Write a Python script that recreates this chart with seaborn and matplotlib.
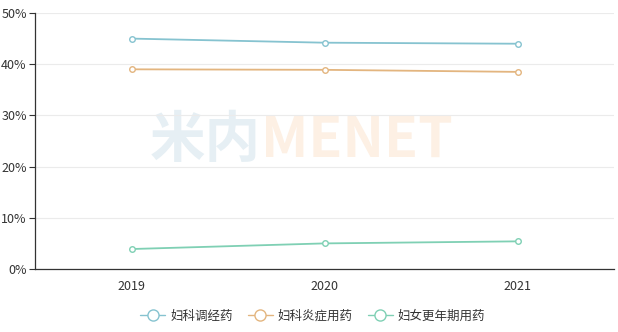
import matplotlib
matplotlib.use("Agg")
import matplotlib.pyplot as plt
import seaborn as sns
import pandas as pd
from matplotlib.ticker import FuncFormatter, FixedLocator

# ==========================================
# DATA
# ==========================================
years = ['2019', '2020', '2021']
series_names = ['妇科调经药', '妇科炎症用药', '妇女更年期用药']
tiaojing = [45.0, 44.2, 44.0]
yanzheng = [39.0, 38.9, 38.5]
gengnian = [3.9, 5.0, 5.4]
colours = ['#86c3d0', '#e3b57f', '#7fd0b4']

df = pd.DataFrame({
    'year': years * 3,
    'value': tiaojing + yanzheng + gengnian,
    'series': [series_names[0]] * 3 + [series_names[1]] * 3 + [series_names[2]] * 3,
})
df['x'] = df['year'].map({y: i for i, y in enumerate(years)})

sns.set_theme(style='white')
plt.rcParams['font.family'] = ['Noto Sans CJK SC', 'DejaVu Sans']

fig = plt.figure(figsize=(6.18, 3.32), dpi=100)
ax = fig.add_axes([35 / 618, 63 / 332, 579 / 618, 256 / 332])

# faint watermark
ax.text(0.39, 0.5, '米内', transform=ax.transAxes, fontsize=40, fontweight='bold',
        color='#e6eff4', ha='right', va='center', zorder=0)
ax.text(0.39, 0.5, 'MENET', transform=ax.transAxes, fontsize=40, fontweight='bold',
        color='#fdf0e4', ha='left', va='center', zorder=0)

sns.lineplot(data=df, x='x', y='value', hue='series', hue_order=series_names,
             palette=colours, marker='o', markersize=4, markerfacecolor='white',
             markeredgewidth=1, linewidth=1.3, ax=ax, zorder=3)
for line, c in zip(ax.get_lines(), colours):
    line.set_markeredgecolor(c)

ax.set_xlim(-0.5, 2.5)
ax.set_ylim(0, 50)
ax.xaxis.set_major_locator(FixedLocator([0, 1, 2]))
ax.set_xticks([-0.5, 0.5, 1.5, 2.5], minor=True)
ax.set_xticklabels(years)
ax.tick_params(axis='x', which='major', length=0, pad=8, labelsize=9, colors='#333333')
ax.tick_params(axis='x', which='minor', length=5, width=0.8, color='#333333', direction='out')
ax.yaxis.set_major_locator(FixedLocator([0, 10, 20, 30, 40, 50]))
ax.yaxis.set_major_formatter(FuncFormatter(lambda v, _: f'{v:.0f}%'))
ax.tick_params(axis='y', length=4, width=0.8, color='#333333', direction='out',
               labelsize=9, labelcolor='#333333', left=True, pad=2)
ax.grid(axis='y', color='#ebebeb', linewidth=0.8)
ax.set_axisbelow(True)
ax.set_xlabel('')
ax.set_ylabel('')

for s in ['top', 'right']:
    ax.spines[s].set_visible(False)
for s in ['left', 'bottom']:
    ax.spines[s].set_color('#333333')
    ax.spines[s].set_linewidth(0.9)

handles, labels = ax.get_legend_handles_labels()
ax.legend(handles, labels, loc='center', bbox_to_anchor=(0.48, -0.185), ncol=3,
          frameon=False, fontsize=9, handlelength=2.0, handletextpad=0.4,
          columnspacing=1.2, labelcolor='#333333')
for h, c in zip(ax.get_legend().legend_handles, colours):
    h.set_markersize(8)
    h.set_markerfacecolor('white')
    h.set_markeredgecolor(c)
    h.set_linewidth(1)

fig.savefig('out.png', dpi=100)
